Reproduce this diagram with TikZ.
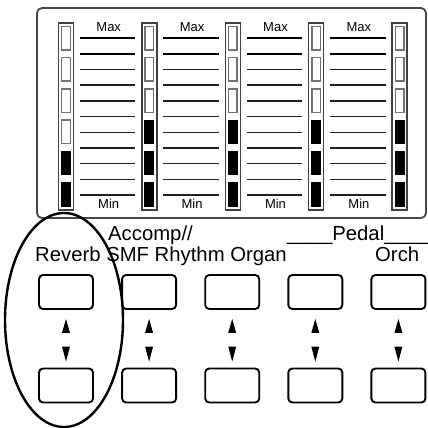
\documentclass[tikz,border=0pt]{standalone}
\usepackage{fontspec}
\setmainfont{Liberation Sans}
\begin{document}
\begin{tikzpicture}[x=1pt, y=-1pt,
    ledframe/.style={draw=gray!50!black, line width=1.4pt},
    btn/.style={draw, line width=1.9pt, rounded corners=4pt, minimum width=54pt, minimum height=34pt, inner sep=0pt},
    lbl/.style={inner sep=0pt, anchor=base west, font=\fontsize{20.3}{24}\selectfont},
    tick/.style={inner sep=0pt, anchor=base, font=\fontsize{13}{14}\selectfont}]
  \useasboundingbox (0,0) rectangle (428,428);

  % display panel
  \draw[rounded corners=5pt, line width=1.8pt, gray!55!black] (37,8) rectangle (426,218);

  % level meters, \n lit segments each
  \foreach \i/\n in {0/2,1/3,2/3,3/3,4/3} {
    \pgfmathsetmacro{\cx}{66+83.4*\i}
    \draw[ledframe] (\cx-7.5,23) rectangle (\cx+7.5,210);
    \foreach \j in {0,...,5} {
      \pgfmathsetmacro{\cy}{26+31.2*\j}
      \ifnum\j<\numexpr6-\n\relax
        \draw[draw=gray!90!black, fill=white, line width=1.5pt] (\cx-4.3,\cy+0.5) rectangle (\cx+4.3,\cy+24);
      \else
        \fill[black] (\cx-5,\cy) rectangle (\cx+5,\cy+24.5);
      \fi
    }
  }

  % scale lines and Max/Min between the meters
  \foreach \i in {0,...,3} {
    \pgfmathsetmacro{\xa}{66+83.4*\i+14}
    \pgfmathsetmacro{\xb}{66+83.4*(\i+1)-14}
    \foreach \k in {0,...,10} {
      \pgfmathsetmacro{\ly}{38+15.7*\k}
      \ifnum\k<2
        \draw[line width=1.7pt] (\xa,\ly) -- (\xb,\ly);
      \else
        \draw[line width=1.4pt, gray!25!black] (\xa,\ly) -- (\xb,\ly);
      \fi
    }
    \node[tick] (max\i) at ({(\xa+\xb)/2+1},31.5) {Max};
    \node[tick] (min\i) at ({(\xa+\xb)/2+1},208) {Min};
  }

  % button labels
  \node[lbl] (accomp) at (108,240) {Accomp//};
  \node[lbl] (names) at (35,261) {Reverb SMF Rhythm Organ};
  \node[lbl] (pedal) at (287,240) {\_\_\_\_Pedal\_\_\_\_};
  \node[lbl] (orch) at (375,261) {Orch};

  % up/down buttons
  \foreach \i in {0,...,4} {
    \node[btn] (up\i) at (66+83.1*\i,292) {};
    \node[btn] (down\i) at (66+83.1*\i,385.5) {};
    \fill ([yshift=-9pt]up\i.south) -- ++(4,14) -- ++(-8,0) -- cycle;
    \fill ([yshift=6pt]down\i.north) -- ++(4,-15) -- ++(-8,0) -- cycle;
  }

  \draw[line width=2.4pt] (64,320) ellipse [x radius=59pt, y radius=107pt];
\end{tikzpicture}
\end{document}
